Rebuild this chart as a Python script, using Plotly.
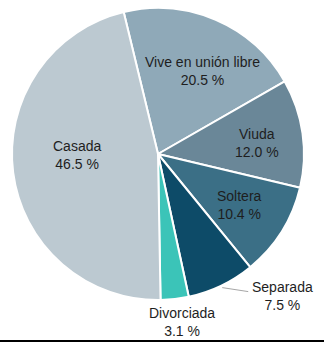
import numpy as np
import plotly.graph_objects as go

# ---- data ----
categories = ["Vive en unión libre", "Viuda", "Soltera", "Separada", "Divorciada", "Casada"]
values = [20.5, 12.0, 10.4, 7.5, 3.1, 46.5]
colors = ["#8FA9B8", "#6A8798", "#3B6F86", "#0D4B68", "#3BC4B8", "#BCC9D1"]

# ---- layout constants (pixels) ----
W, H = 324, 342
CX, CY, R = 158, 154, 146
ROT = -13.6  # start angle of first slice, degrees clockwise from 12 o'clock

# label placement style: (radius fraction, dx px, dy px)
label_style = {
    "Vive en unión libre": (0.64, 8, 3),
    "Viuda": (0.68, 1, 3),
    "Soltera": (0.66, 0, 0),
    "Casada": (0.55, -1, -9),
    "Divorciada": (1.155, 5, 0),
}

def px(x, y):
    return x / W, 1 - y / H

fig = go.Figure(go.Pie(
    labels=categories,
    values=values,
    sort=False,
    direction="clockwise",
    rotation=ROT,
    marker=dict(colors=colors, line=dict(color="white", width=2)),
    textinfo="none",
    hoverinfo="skip",
    showlegend=False,
    domain=dict(x=[(CX - R) / W, (CX + R) / W],
                y=[1 - (CY + R) / H, 1 - (CY - R) / H]),
))

font = dict(family="Liberation Sans, Arial, sans-serif", size=14, color="#1E1E1E")
total = sum(values)
cum = 0.0
annotations = []
shapes = []
for cat, v in zip(categories, values):
    mid = np.deg2rad(ROT + (cum + v / 2) / total * 360)
    cum += v
    text = f"{cat}<br>{v:.1f} %"
    if cat in label_style:
        rf, dx, dy = label_style[cat]
        x = CX + rf * R * np.sin(mid) + dx
        y = CY - rf * R * np.cos(mid) + dy
        ax, ay = px(x, y)
        annotations.append(dict(x=ax, y=ay, xref="paper", yref="paper", text=text,
                                showarrow=False, font=font, xanchor="center",
                                yanchor="middle", align="center"))
    else:
        # outside label with leader line
        x0 = CX + R * np.sin(mid) + 1
        y0 = CY - R * np.cos(mid) + 2
        x1, y1 = x0 + 26, y0 + 4
        p0, p1 = px(x0, y0), px(x1, y1)
        shapes.append(dict(type="line", xref="paper", yref="paper",
                           x0=p0[0], y0=p0[1], x1=p1[0], y1=p1[1],
                           line=dict(color="#A6A6A6", width=1)))
        lx, ly = px(x1 + 2, y1 + 4.5)
        annotations.append(dict(x=lx, y=ly, xref="paper", yref="paper", text=text,
                                showarrow=False, font=font, xanchor="left",
                                yanchor="middle", align="center"))

# bottom black border
shapes.append(dict(type="rect", xref="paper", yref="paper", x0=0, x1=1,
                   y0=0, y1=2 / H, fillcolor="black", line=dict(width=0)))

fig.update_layout(
    width=W, height=H,
    margin=dict(l=0, r=0, t=0, b=0),
    paper_bgcolor="white",
    annotations=annotations,
    shapes=shapes,
)

fig.write_html("out.html", config={"displayModeBar": False})
